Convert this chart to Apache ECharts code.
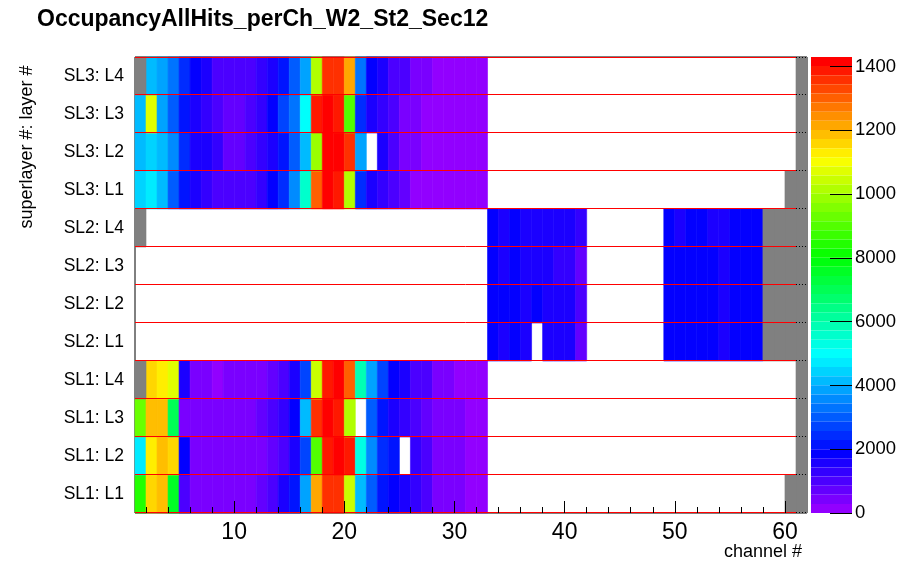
<!DOCTYPE html>
<html>
<head>
<meta charset="utf-8">
<title>OccupancyAllHits_perCh_W2_St2_Sec12</title>
<script src="https://cdn.jsdelivr.net/npm/echarts@6/dist/echarts.min.js"></script>
<style>
html, body { margin: 0; padding: 0; background: #fff; }
#chart { width: 897px; height: 571px; }
</style>
</head>
<body>
<div id="chart"></div>
<script>
// layers from bottom (index 0) to top (index 11)
const layerLabels = ['SL1: L1', 'SL1: L2', 'SL1: L3', 'SL1: L4',
	'SL2: L1', 'SL2: L2', 'SL2: L3', 'SL2: L4',
	'SL3: L1', 'SL3: L2', 'SL3: L3', 'SL3: L4']
const channelTicks = [10, 20, 30, 40, 50, 60]
const channelMinorTicks = [2, 4, 6, 8, 12, 14, 16, 18, 22, 24, 26, 28, 32, 34, 36, 38,
	42, 44, 46, 48, 52, 54, 56, 58]
const paletteTicks = [0, 2000, 4000, 6000, 8000, 10000, 12000, 14000]
const zMax = 14300
const nColors = 50

// SL1 and SL3: channels 1..32, null = no hits / dead channel
const sl1L1 = [8440, 11580, 11870, 7580, 1000, 430, 440, 420, 430, 410, 440, 720, 1000, 1570, 2150, 3860,
	12160, 13590, 13600, 10440, 4150, 3000, 2150, 1860, 1570, 1290, 1000, 430, 420, 440, 150, 140]
const sl1L2 = [4720, 11300, 11870, 11580, 1860, 430, 440, 420, 430, 410, 440, 430, 720, 1000, 1570, 2720,
	9010, 13870, 14160, 13880, 5290, 3580, 2430, 2150, null, 1290, 1000, 430, 420, 440, 150, 140]
const sl1L3 = [9300, 11870, 11860, 7010, 430, 440, 420, 430, 410, 440, 430, 720, 1000, 1290, 1860, 4150,
	13590, 14160, 13870, 10150, null, 3000, 2150, 1570, 1290, 1000, 710, 430, 420, 440, 150, 140]
const sl1L4 = [null, 11580, 11300, 10730, 1570, 430, 420, 150, 430, 440, 420, 410, 720, 1000, 1560, 2720,
	10440, 13870, 14160, 13010, 5860, 3860, 2720, 1860, 1570, 1000, 990, 430, 420, 150, 140, 150]
const sl3L1 = [4430, 4720, 4140, 3000, 2150, 1570, 1290, 1010, 1000, 990, 1000, 1290, 1850, 2430, 3580, 5580,
	13010, 14160, 13870, 10150, 2440, 1570, 1280, 1000, 720, 150, 160, 140, 150, 140, 150, 130]
const sl3L2 = [4140, 4430, 4150, 3580, 2440, 1580, 1570, 1290, 700, 720, 1000, 1280, 1570, 2140, 3010, 4130,
	9870, 14150, 14170, 13580, 3860, null, 1560, 990, 440, 420, 150, 140, 160, 150, 140, 150]
const sl3L3 = [4150, 10730, 3860, 3000, 2150, 1570, 1290, 1000, 710, 730, 990, 1280, 1860, 2720, 3290, 5010,
	13870, 14160, 13880, 9010, 2430, 1560, 1290, 1000, 430, 420, 150, 160, 140, 150, 130, 150]
const sl3L4 = [null, 4150, 3860, 3290, 2430, 1860, 1570, 1000, 990, 1010, 1020, 1290, 1580, 2150, 3000, 3850,
	10150, 13590, 13600, 12160, 3280, 1850, 1560, 1000, 990, 430, 420, 150, 140, 160, 150, 140]

// SL2: channels 33..41 and 49..57
const sl2L1Left = [1860, 1570, 1850, 1580, null, 1570, 1560, 1600, 720]
const sl2L1Right = [1850, 1860, 1870, 1850, 1860, 1580, 1860, 1850, 1840]
const sl2L2Left = [1850, 1870, 1860, 1570, 1850, 1580, 1560, 1600, 1000]
const sl2L2Right = [1860, 1850, 1840, 1870, 1860, 1560, 1850, 1870, 1860]
const sl2L3Left = [1860, 1580, 1850, 1570, 1560, 1590, 1290, 1280, 710]
const sl2L3Right = [1860, 1850, 1870, 1840, 1860, 1570, 1850, 1860, 1870]
const sl2L4Left = [1860, 1570, 1850, 1580, 1560, 1570, 1590, 1600, 1290]
const sl2L4Right = [1850, 1570, 1870, 1860, 1580, 1560, 1840, 1860, 1850]

// channels that do not exist, per layer (drawn grey)
const deadChannels = [
	[60, 61], [61], [61], [1, 61],
	[58, 59, 60, 61], [58, 59, 60, 61], [58, 59, 60, 61], [1, 58, 59, 60, 61],
	[60, 61], [61], [61], [1, 61]
]

// [layer, first channel, values]
const blocks = [
	[0, 1, sl1L1], [1, 1, sl1L2], [2, 1, sl1L3], [3, 1, sl1L4],
	[4, 33, sl2L1Left], [4, 49, sl2L1Right], [5, 33, sl2L2Left], [5, 49, sl2L2Right],
	[6, 33, sl2L3Left], [6, 49, sl2L3Right], [7, 33, sl2L4Left], [7, 49, sl2L4Right],
	[8, 1, sl3L1], [9, 1, sl3L2], [10, 1, sl3L3], [11, 1, sl3L4]
]

const cells = []
blocks.forEach(([layer, first, values]) => {
	values.forEach((v, k) => {
		if (v !== null) cells.push([first + k, layer, v])
	})
})
const deadCells = []
deadChannels.forEach((chs, layer) => chs.forEach(ch => deadCells.push([ch, layer])))
const layerEdges = layerLabels.map((_, i) => [1, i]).concat([[1, layerLabels.length]])

// ROOT "pretty" palette: 50 steps, violet -> red
const pieces = []
for (let i = 0; i < nColors; i++) {
	const hue = 280 - (i + 1) * 280 / nColors
	pieces.push({
		min: i * zMax / nColors,
		max: (i + 1) * zMax / nColors,
		color: 'hsl(' + hue.toFixed(1) + ', 100%, 50%)'
	})
}

const fontFamily = '"Liberation Sans", Arial, Helvetica, sans-serif'

function cellShape(api) {
	const x = api.value(0)
	const y = api.value(1)
	const p0 = api.coord([x, y])
	const p1 = api.coord([x + 1, y + 1])
	return { x: p0[0], y: p1[1], width: p1[0] - p0[0], height: p0[1] - p1[1] }
}

const chart = echarts.init(document.getElementById('chart'), null, { renderer: 'canvas' })
chart.setOption({
	animation: false,
	backgroundColor: '#fff',
	textStyle: { fontFamily: fontFamily, color: '#000' },
	title: {
		text: 'OccupancyAllHits_perCh_W2_St2_Sec12',
		left: 32,
		top: 3,
		textStyle: { fontSize: 23, fontWeight: 'bold', color: '#000', fontFamily: fontFamily }
	},
	grid: [{
		left: 135, top: 57, width: 672, height: 456, outerBoundsMode: 'none',
		show: true, borderColor: '#000', borderWidth: 1, backgroundColor: '#fff'
	}, {
		left: 811, top: 57, width: 41, height: 456, outerBoundsMode: 'none', show: false
	}],
	xAxis: [{
		gridIndex: 0, type: 'value', min: 1, max: 62, z: 10,
		axisLine: { show: false, onZero: false },
		splitLine: { show: false },
		axisTick: { inside: true, length: 12, customValues: channelTicks, lineStyle: { color: '#000' } },
		axisLabel: { customValues: channelTicks, fontSize: 23, margin: 8, color: '#000' },
		name: 'channel #',
		nameLocation: 'end',
		nameGap: 0,
		nameMoveOverlap: false,
		nameTextStyle: { fontSize: 18, color: '#000', align: 'right', verticalAlign: 'top', padding: [30, 5, 0, 0] }
	}, {
		gridIndex: 0, type: 'value', min: 1, max: 62, position: 'bottom', z: 10,
		axisLine: { show: false, onZero: false },
		splitLine: { show: false },
		axisLabel: { show: false },
		axisTick: { inside: true, length: 6, customValues: channelMinorTicks, lineStyle: { color: '#000' } }
	}, {
		gridIndex: 1, type: 'value', min: 0, max: 1, show: false
	}],
	yAxis: [{
		gridIndex: 0, type: 'value', min: 0, max: layerLabels.length,
		axisLine: { show: false, onZero: false },
		axisTick: { show: false },
		splitLine: { show: false },
		axisLabel: {
			customValues: layerLabels.map((_, i) => i + 0.5),
			formatter: v => layerLabels[Math.floor(v)],
			fontSize: 17.5, margin: 11, color: '#000'
		}
	}, {
		gridIndex: 1, type: 'value', min: 0, max: zMax, position: 'right', z: 10,
		axisLine: { show: false, onZero: false },
		splitLine: { show: false },
		axisTick: { inside: true, length: 22, customValues: paletteTicks, lineStyle: { color: '#000' } },
		axisLabel: { customValues: paletteTicks, formatter: v => String(v), fontSize: 18.5, margin: 3, color: '#000' }
	}],
	visualMap: {
		type: 'piecewise',
		seriesIndex: 0,
		dimension: 2,
		pieces: pieces,
		orient: 'vertical',
		left: 811,
		top: 57,
		padding: 0,
		itemWidth: 41,
		itemHeight: 456 / nColors,
		itemGap: 0,
		itemSymbol: 'rect',
		showLabel: false,
		selectedMode: false,
		hoverLink: false
	},
	graphic: [{
		type: 'text',
		x: 27,
		y: 147,
		rotation: Math.PI / 2,
		style: {
			text: 'superlayer #: layer #',
			fill: '#000',
			font: '18px ' + fontFamily,
			align: 'center',
			verticalAlign: 'middle'
		}
	}],
	series: [{
		name: 'occupancy',
		type: 'custom',
		xAxisIndex: 0,
		yAxisIndex: 0,
		data: cells,
		encode: { x: 0, y: 1 },
		dimensions: ['channel', 'layer', 'hits'],
		renderItem: (params, api) => {
			const fill = api.visual('color')
			return { type: 'rect', shape: cellShape(api), style: { fill: fill, stroke: fill, lineWidth: 0.6 } }
		}
	}, {
		name: 'dead',
		type: 'custom',
		xAxisIndex: 0,
		yAxisIndex: 0,
		data: deadCells,
		encode: { x: 0, y: 1 },
		renderItem: (params, api) => ({
			type: 'rect', shape: cellShape(api), style: { fill: '#808080', stroke: '#808080', lineWidth: 0.6 }
		})
	}, {
		name: 'layer lines',
		type: 'custom',
		xAxisIndex: 0,
		yAxisIndex: 0,
		z: 5,
		silent: true,
		data: layerEdges,
		encode: { x: 0, y: 1 },
		renderItem: (params, api) => {
			const b = api.value(1)
			const a = api.coord([1, b])
			const c = api.coord([61, b])
			const d = api.coord([62, b])
			// keep the 1px lines on whole pixels so they stay crisp
			const y = Math.round(a[1]) + (b === layerLabels.length ? 0.5 : -0.5)
			return {
				type: 'group',
				children: [{
					type: 'line',
					shape: { x1: a[0], y1: y, x2: c[0], y2: y },
					style: { stroke: '#ff0000', lineWidth: 1 }
				}, {
					type: 'line',
					shape: { x1: c[0], y1: y, x2: d[0], y2: y },
					style: { stroke: '#000', lineWidth: 1, lineDash: [1, 2] }
				}]
			}
		}
	}]
})
</script>
</body>
</html>
